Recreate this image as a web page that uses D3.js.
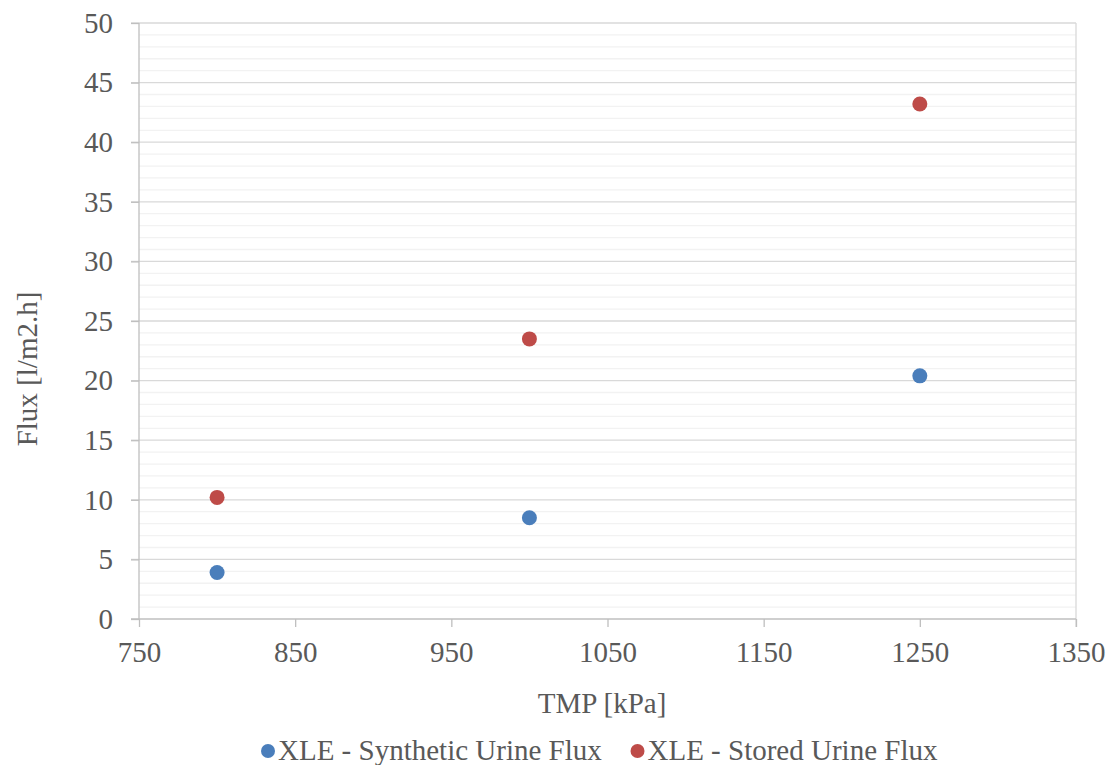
<!DOCTYPE html>
<html lang="en">
<head>
<meta charset="UTF-8">
<title>Flux vs TMP</title>
<script src="https://d3js.org/d3.v7.min.js"></script>
<style>
  body { margin: 0; background: #fff; }
  svg text { font-family: "Liberation Serif", "Times New Roman", serif; }
</style>
</head>
<body>
<svg width="1115" height="765"></svg>
<script>
  // data
  const tmp = [800, 1000, 1250];
  const syntheticFlux = [3.9, 8.5, 20.4];
  const storedFlux = [10.2, 23.5, 43.2];
  const xTicks = [750, 850, 950, 1050, 1150, 1250, 1350];
  const yTicks = [0, 5, 10, 15, 20, 25, 30, 35, 40, 45, 50];
  const seriesNames = ["XLE - Synthetic Urine Flux", "XLE - Stored Urine Flux"];
  const seriesColors = ["#4a7ebb", "#be4b48"];

  const FONT = "Liberation Serif, Times New Roman, serif";
  const FS = 29;
  const TXT = "#595959";
  const svg = d3.select("svg");
  const plotL = 139, plotR = 1076, plotT = 23, plotB = 619;

  const x = d3.scaleLinear().domain([750, 1350]).range([plotL, plotR]);
  const y = d3.scaleLinear().domain([0, 50]).range([plotB, plotT]);

  // minor gridlines every 1
  svg.append("g").selectAll("line")
    .data(d3.range(1, 50).filter(v => v % 5 !== 0))
    .enter().append("line")
    .attr("x1", plotL).attr("x2", plotR)
    .attr("y1", d => y(d)).attr("y2", d => y(d))
    .attr("stroke", "#f2f2f2").attr("stroke-width", 1.3);

  // major gridlines
  svg.append("g").selectAll("line")
    .data(yTicks.filter(v => v > 0))
    .enter().append("line")
    .attr("x1", plotL - 8).attr("x2", plotR)
    .attr("y1", d => y(d)).attr("y2", d => y(d))
    .attr("stroke", "#d9d9d9").attr("stroke-width", 1.3);

  // right border
  svg.append("line")
    .attr("x1", plotR).attr("x2", plotR).attr("y1", plotT).attr("y2", plotB + 8)
    .attr("stroke", "#d9d9d9").attr("stroke-width", 1.3);

  // axes
  const xAxis = svg.append("g").attr("transform", `translate(0,${plotB})`)
    .call(d3.axisBottom(x).tickValues(xTicks).tickSize(8).tickFormat(d3.format("d")));
  const yAxis = svg.append("g").attr("transform", `translate(${plotL},0)`)
    .call(d3.axisLeft(y).tickValues(yTicks).tickSize(8).tickPadding(18));
  [xAxis, yAxis].forEach(a => {
    a.attr("font-family", FONT).attr("font-size", FS);
    a.selectAll("path, line").attr("stroke", "#bfbfbf").attr("stroke-width", 1.3);
    a.selectAll("text").attr("fill", TXT);
  });
  yAxis.select(".domain").attr("d", `M${-8},${plotB}H0V${plotT}`);
  xAxis.select(".domain").attr("d", `M${plotL},0H${plotR}`);
  xAxis.selectAll("text").attr("y", 43).attr("dy", null);

  // axis titles
  svg.append("text").attr("x", 602).attr("y", 713)
    .attr("text-anchor", "middle").attr("fill", TXT)
    .attr("font-family", FONT).attr("font-size", FS)
    .text("TMP [kPa]");
  svg.append("text").attr("transform", "translate(37,369) rotate(-90)")
    .attr("text-anchor", "middle").attr("fill", TXT)
    .attr("font-family", FONT).attr("font-size", FS)
    .text("Flux [l/m2.h]");

  // points
  [syntheticFlux, storedFlux].forEach((vals, s) => {
    svg.append("g").selectAll("circle")
      .data(tmp.map((t, i) => ({ t, v: vals[i] })))
      .enter().append("circle")
      .attr("cx", d => x(d.t)).attr("cy", d => y(d.v))
      .attr("r", 7.5).attr("fill", seriesColors[s]);
  });

  // legend
  const legend = svg.append("g");
  const lx = [268, 637.5];
  seriesNames.forEach((name, i) => {
    legend.append("circle").attr("cx", lx[i]).attr("cy", 751).attr("r", 7).attr("fill", seriesColors[i]);
    legend.append("text").attr("x", lx[i] + 10).attr("y", 760)
      .attr("fill", TXT).attr("font-family", FONT).attr("font-size", FS).text(name);
  });
</script>
</body>
</html>
